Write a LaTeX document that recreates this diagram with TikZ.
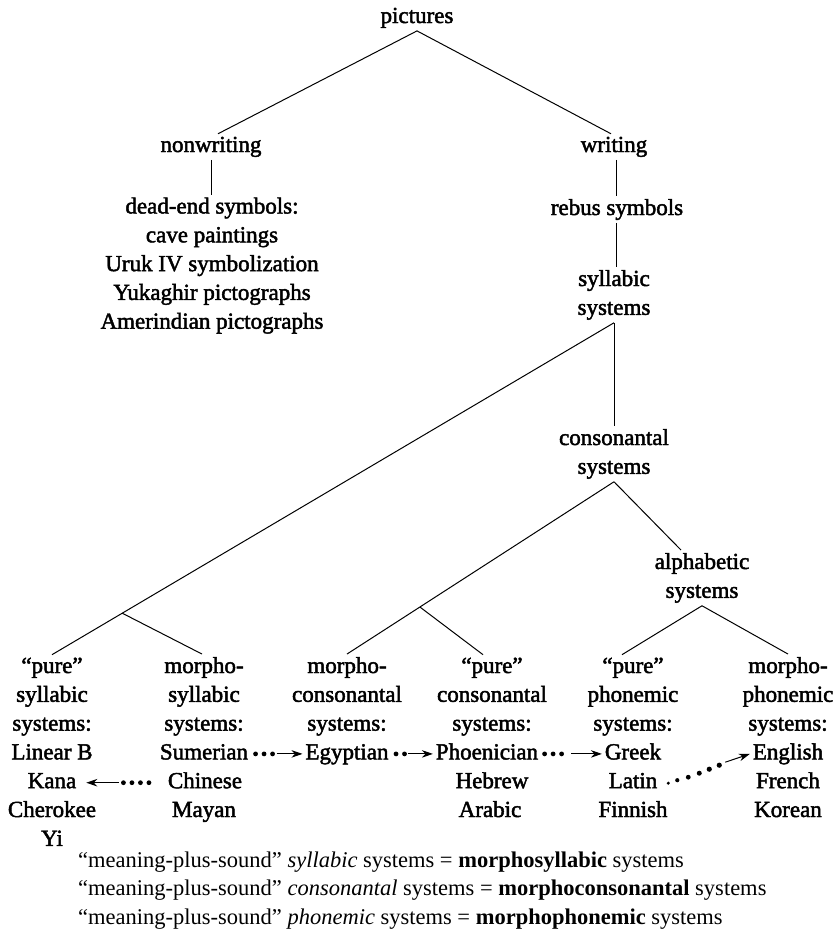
\documentclass[tikz,border=0pt]{standalone}
\usepackage{fontspec}
\setmainfont{Liberation Serif}
\newfontfamily\treefont[FakeBold=2]{Liberation Serif}
\usetikzlibrary{calc,arrows.meta}
\begin{document}
\begin{tikzpicture}[x=1pt,y=-1pt,
  tree/.style={font={\treefont\fontsize{23}{28.8}\selectfont}, inner sep=0pt, outer sep=3pt, align=center, anchor=base},
  note/.style={font={\fontsize{22.5}{28.5}\selectfont}, inner sep=0pt, align=left, anchor=base west},
  link/.style={line width=1pt},
  arr/.style={line width=1pt, -{Stealth[length=11pt,width=7.5pt,inset=3.5pt]}}]
\path[use as bounding box] (0,0) rectangle (839,943);

% upper tree (anchor base = baseline of the last line)
\node[tree] (pictures) at (417,23) {pictures};
\node[tree] (nonwriting) at (211,152) {nonwriting};
\node[tree] (writing) at (614,152) {writing};
\node[tree] (deadend) at (212,328.7) {dead-end symbols:\\cave paintings\\Uruk IV symbolization\\Yukaghir pictographs\\Amerindian pictographs};
\node[tree] (rebus) at (617,215) {rebus symbols};
\node[tree] (syllabic) at (614,314.8) {syllabic\\systems};
\node[tree] (consonantal) at (614,473.8) {consonantal\\systems};
\node[tree] (alphabetic) at (702,597.8) {alphabetic\\systems};

% leaf headers
\node[tree] (h1) at (52,730.6) {“pure”\\syllabic\\systems:};
\node[tree] (h2) at (204,730.6) {morpho-\\syllabic\\systems:};
\node[tree] (h3) at (347,730.6) {morpho-\\consonantal\\systems:};
\node[tree] (h4) at (492,730.6) {“pure”\\consonantal\\systems:};
\node[tree] (h5) at (633,730.6) {“pure”\\phonemic\\systems:};
\node[tree] (h6) at (788,730.6) {morpho-\\phonemic\\systems:};

% leaf items
\node[tree] (linearb) at (52,759.4) {Linear B};
\node[tree] (kana) at (52,788.2) {Kana};
\node[tree] (cherokee) at (52,817) {Cherokee};
\node[tree] (yi) at (52,845.8) {Yi};
\node[tree] (sumerian) at (204,759.4) {Sumerian};
\node[tree] (chinese) at (205,788.2) {Chinese};
\node[tree] (mayan) at (204,817) {Mayan};
\node[tree] (egyptian) at (347,759.4) {Egyptian};
\node[tree] (phoenician) at (487,759.4) {Phoenician};
\node[tree] (hebrew) at (492,788.2) {Hebrew};
\node[tree] (arabic) at (490,817) {Arabic};
\node[tree] (greek) at (633,759.4) {Greek};
\node[tree] (latin) at (633,788.2) {Latin};
\node[tree] (finnish) at (633,817) {Finnish};
\node[tree] (english) at (788,759.4) {English};
\node[tree] (french) at (788,788.2) {French};
\node[tree] (korean) at (788,817) {Korean};

% tree lines
\draw[link] (pictures.south) -- ([xshift=7pt]nonwriting.north);
\draw[link] (pictures.south) -- ([xshift=-3pt]writing.north);
\draw[link] (nonwriting.south) -- (nonwriting.south |- deadend.north);
\draw[link] ([xshift=2pt]writing.south) -- ([xshift=2pt]writing.south |- rebus.north);
\draw[link] ([xshift=-1pt]rebus.south) -- ([xshift=-1pt]rebus.south |- syllabic.north);
\draw[link] (syllabic.south) -- (consonantal.north);
\draw[link] (syllabic.south) -- (h1.north);
\coordinate (b1) at ($(syllabic.south)!0.875!(h1.north)$);
\draw[link] (b1) -- ([xshift=-2pt]h2.north);
\draw[link] (consonantal.south) -- (h3.north);
\coordinate (b2) at ($(consonantal.south)!0.727!(h3.north)$);
\draw[link] (b2) -- ([xshift=-9pt]h4.north);
\draw[link] (consonantal.south) -- ([xshift=-21pt]alphabetic.north);
\draw[link] (alphabetic.south) -- ([xshift=-11pt]h5.north);
\draw[link] (alphabetic.south) -- (h6.north);

% dotted arrows
\foreach \d in {4.5,13,21.5} \fill ($(sumerian.base east)+(\d,-5.5)$) circle (2.4);
\draw[arr] ($(sumerian.base east)+(25.5,-5.5)$) -- ($(egyptian.base west)+(0,-5.5)$);
\foreach \d in {4.5,13} \fill ($(egyptian.base east)+(\d,-5.5)$) circle (2.4);
\draw[arr] ($(egyptian.base east)+(16.5,-5.5)$) -- ($(phoenician.base west)+(0,-5.5)$);
\foreach \d in {3.5,12,20.5} \fill ($(phoenician.base east)+(\d,-5.5)$) circle (2.4);
\draw[arr] ($(phoenician.base east)+(30,-5.5)$) -- ($(greek.base west)+(0,-5.5)$);
\foreach \d in {-16,-24.5,-33,-41.5} \fill ($(chinese.base west)+(\d,-5.5)$) circle (2.4);
\draw[arr] ($(chinese.base west)+(-46,-5.5)$) -- ($(kana.base east)+(7,-5.5)$);
\foreach \dx/\dy/\r in {8/-5/1.7,17/-8/2.1,28/-11/2.4,39/-15/2.5,49/-19/2.6,59/-23/2.6}
  \fill ($(latin.base east)+(\dx,\dy)$) circle (\r);
\draw[arr] ($(latin.base east)+(65,-26)$) -- ($(english.base west)+(0,-5.5)$);

% notes
\node[note] (notes) at (78,924) {“meaning-plus-sound” \textit{syllabic} systems = \textbf{morphosyllabic} systems\\
“meaning-plus-sound” \textit{consonantal} systems = \textbf{morphoconsonantal} systems\\
“meaning-plus-sound” \textit{phonemic} systems = \textbf{morphophonemic} systems};
\end{tikzpicture}
\end{document}
